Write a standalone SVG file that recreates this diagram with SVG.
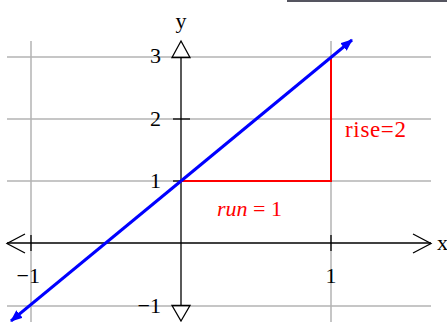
<svg xmlns="http://www.w3.org/2000/svg" width="447" height="322" viewBox="0 0 447 322">
<style>
.grid{stroke:#b3b3b3;stroke-width:1.5;fill:none}
.axis{stroke:#000;stroke-width:1.3;fill:none}
.lbl{font-family:"Liberation Serif","Times New Roman",serif;font-size:22px;fill:#000}
.red{fill:#ff0000}
.big{font-size:23px}
</style>
<defs>
<marker id="blueHead" markerWidth="12" markerHeight="10" refX="11" refY="5" orient="auto" markerUnits="userSpaceOnUse">
<path d="M0,0 L12,5 L0,10 Z" fill="#0000ff"/>
</marker>
</defs>
<rect x="0" y="0" width="447" height="322" fill="#fff"/>
<rect x="287" y="0" width="160" height="2" fill="#555560"/>
<g id="grid">
<line class="grid" x1="7" y1="57" x2="431" y2="57"/>
<line class="grid" x1="7" y1="119" x2="431" y2="119"/>
<line class="grid" x1="7" y1="181" x2="431" y2="181"/>
<line class="grid" x1="7" y1="306" x2="431" y2="306"/>
<line class="grid" x1="31" y1="41" x2="31" y2="322"/>
<line class="grid" x1="331" y1="41" x2="331" y2="322"/>
</g>
<g id="axes">
<line class="axis" x1="7" y1="243" x2="431" y2="243"/>
<polyline class="axis" points="25,234 7,243.5 25,253"/>
<polyline class="axis" points="413,234 431,243.5 413,253"/>
<line class="axis" x1="181" y1="57" x2="181" y2="306"/>
<path class="axis" d="M181,41 L190,57.5 L172,57.5 Z" fill="#fff"/>
<path class="axis" d="M181,321 L190,305.5 L172,305.5 Z" fill="#fff"/>
<line class="axis" x1="173" y1="119" x2="190" y2="119"/>
<line class="axis" x1="173" y1="181" x2="181" y2="181"/>
<line class="axis" x1="31" y1="235" x2="31" y2="251"/>
<line class="axis" x1="331" y1="235" x2="331" y2="251"/>
</g>
<g id="labels">
<text class="lbl" x="181" y="28" text-anchor="middle">y</text>
<text class="lbl" x="437" y="250">x</text>
<text class="lbl" x="161" y="63" text-anchor="end">3</text>
<text class="lbl" x="161" y="126" text-anchor="end">2</text>
<text class="lbl" x="161" y="188" text-anchor="end">1</text>
<text class="lbl" x="161" y="313" text-anchor="end">−1</text>
<text class="lbl" x="40" y="283" text-anchor="end">−1</text>
<text class="lbl" x="331" y="283" text-anchor="middle">1</text>
</g>
<g id="triangle">
<polyline points="181,181 331,181 331,57" fill="none" stroke="#ff0000" stroke-width="2"/>
<text class="lbl red big" x="345" y="137" textLength="61">rise=2</text>
<text class="lbl red" x="217" y="216"><tspan font-style="italic">run</tspan> = 1</text>
</g>
<g id="connectors">
<line x1="181" y1="181" x2="352" y2="40" stroke="#0000ff" stroke-width="3" marker-end="url(#blueHead)"/>
<line x1="181" y1="181" x2="11" y2="321" stroke="#0000ff" stroke-width="3" marker-end="url(#blueHead)"/>
</g>
</svg>
